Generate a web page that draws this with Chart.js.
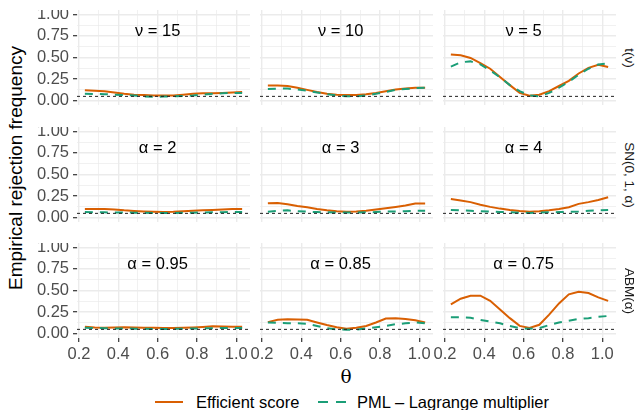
<!DOCTYPE html>
<html>
<head>
<meta charset="utf-8">
<script src="https://cdn.jsdelivr.net/npm/chart.js@4.4.1/dist/chart.umd.min.js"></script>
<style>
  body { margin: 0; background: #fff; }
  #wrap { position: relative; width: 642px; height: 410px; overflow: hidden;
          font-family: "Liberation Sans", Arial, sans-serif; }
  canvas { position: absolute; }
  .anchor { position: absolute; width: 0; height: 0; }
  .anchor span { position: absolute; left: 0; top: 0; white-space: nowrap; line-height: 1; }
  .ytitle span { font-size: 19px; color: #000; transform: translate(-50%, -50%) rotate(-90deg); }
  .xtitle span { font-size: 18.5px; color: #000; font-family: "DejaVu Serif", "Liberation Serif", serif;
                 transform: translate(-50%, -50%); }
  .strip span { font-size: 13.5px; color: #1a1a1a; transform: translate(-50%, -50%) rotate(90deg); }
  .legend { position: absolute; top: 392px; left: 0; width: 642px; height: 20px;
            font-size: 16.5px; color: #000; }
  .legend span { position: absolute; top: 0; line-height: 20px; }
  .legend svg { position: absolute; top: 9px; }
</style>
</head>
<body>
<div id="wrap">
  <div class="anchor ytitle" style="left:15px; top:168px;"><span>Empirical rejection frequency</span></div>
  <div class="anchor xtitle" style="left:346px; top:377px;"><span>θ</span></div>
  <div class="legend">
    <svg style="left:155px;" width="28" height="2"><line x1="0" y1="1" x2="28" y2="1" stroke="#D95F02" stroke-width="2"/></svg>
    <span style="left:196px;">Efficient score</span>
    <svg style="left:318px;" width="28" height="2"><line x1="0" y1="1" x2="28" y2="1" stroke="#1B9E77" stroke-width="2" stroke-dasharray="10,8"/></svg>
    <span style="left:357px;">PML – Lagrange multiplier</span>
  </div>
</div>
<script>
// theta grid shared by all panels
const theta = [0.23, 0.28, 0.33, 0.38, 0.43, 0.48, 0.53, 0.58, 0.63, 0.68, 0.73, 0.78, 0.83, 0.88, 0.93, 0.98, 1.03];
const xBreaks = [0.2, 0.3, 0.4, 0.5, 0.6, 0.7, 0.8, 0.9, 1.0];
const yBreaks = [0, 0.125, 0.25, 0.375, 0.5, 0.625, 0.75, 0.875, 1];
const nominalLevel = 0.05;

// t(nu) row
const effNu15 = [0.12, 0.115, 0.11, 0.095, 0.08, 0.07, 0.065, 0.06, 0.06, 0.06, 0.07, 0.08, 0.085, 0.085, 0.09, 0.095, 0.10];
const pmlNu15 = [0.08, 0.078, 0.075, 0.07, 0.065, 0.06, 0.05, 0.045, 0.048, 0.05, 0.055, 0.06, 0.07, 0.08, 0.085, 0.09, 0.09];
const effNu10 = [0.175, 0.175, 0.17, 0.15, 0.125, 0.10, 0.08, 0.068, 0.065, 0.065, 0.075, 0.09, 0.11, 0.13, 0.14, 0.15, 0.15];
const pmlNu10 = [0.135, 0.14, 0.14, 0.13, 0.115, 0.095, 0.075, 0.06, 0.05, 0.05, 0.06, 0.08, 0.10, 0.125, 0.135, 0.145, 0.15];
const effNu5 = [0.535, 0.525, 0.495, 0.435, 0.37, 0.275, 0.18, 0.09, 0.058, 0.068, 0.11, 0.17, 0.23, 0.315, 0.38, 0.415, 0.39];
const pmlNu5 = [0.395, 0.445, 0.455, 0.42, 0.35, 0.27, 0.18, 0.11, 0.06, 0.05, 0.09, 0.15, 0.22, 0.30, 0.37, 0.42, 0.43];

// SN(0, 1, alpha) row
const effSn2 = [0.10, 0.10, 0.10, 0.095, 0.085, 0.078, 0.072, 0.068, 0.066, 0.068, 0.075, 0.08, 0.085, 0.09, 0.095, 0.10, 0.10];
const pmlSn2 = [0.065, 0.063, 0.062, 0.06, 0.06, 0.058, 0.056, 0.055, 0.055, 0.055, 0.056, 0.058, 0.06, 0.062, 0.064, 0.066, 0.066];
const effSn3 = [0.167, 0.17, 0.155, 0.135, 0.12, 0.10, 0.085, 0.075, 0.07, 0.072, 0.08, 0.095, 0.11, 0.125, 0.14, 0.165, 0.165];
const pmlSn3 = [0.07, 0.08, 0.085, 0.075, 0.07, 0.065, 0.062, 0.06, 0.06, 0.06, 0.062, 0.065, 0.07, 0.072, 0.075, 0.08, 0.08];
const effSn4 = [0.216, 0.20, 0.18, 0.15, 0.125, 0.105, 0.09, 0.078, 0.07, 0.075, 0.085, 0.10, 0.12, 0.16, 0.18, 0.205, 0.236];
const pmlSn4 = [0.089, 0.085, 0.08, 0.075, 0.07, 0.067, 0.064, 0.058, 0.055, 0.058, 0.062, 0.065, 0.068, 0.072, 0.08, 0.086, 0.089];

// ABM(alpha) row
const effAbm95 = [0.08, 0.072, 0.07, 0.072, 0.075, 0.073, 0.07, 0.068, 0.065, 0.065, 0.068, 0.072, 0.078, 0.085, 0.082, 0.08, 0.08];
const pmlAbm95 = [0.07, 0.066, 0.063, 0.06, 0.06, 0.058, 0.056, 0.055, 0.055, 0.056, 0.058, 0.06, 0.062, 0.064, 0.065, 0.066, 0.066];
const effAbm85 = [0.134, 0.16, 0.168, 0.165, 0.16, 0.13, 0.10, 0.075, 0.058, 0.07, 0.09, 0.13, 0.175, 0.18, 0.17, 0.155, 0.13];
const pmlAbm85 = [0.13, 0.125, 0.12, 0.12, 0.115, 0.09, 0.065, 0.05, 0.046, 0.048, 0.06, 0.075, 0.09, 0.11, 0.12, 0.13, 0.12];
const effAbm75 = [0.34, 0.405, 0.44, 0.44, 0.38, 0.28, 0.18, 0.09, 0.066, 0.103, 0.22, 0.35, 0.455, 0.485, 0.47, 0.42, 0.38];
const pmlAbm75 = [0.19, 0.19, 0.185, 0.16, 0.14, 0.12, 0.09, 0.065, 0.057, 0.065, 0.10, 0.13, 0.15, 0.17, 0.18, 0.195, 0.205];

const effScore = [[effNu15, effNu10, effNu5], [effSn2, effSn3, effSn4], [effAbm95, effAbm85, effAbm75]];
const pmlLm = [[pmlNu15, pmlNu10, pmlNu5], [pmlSn2, pmlSn3, pmlSn4], [pmlAbm95, pmlAbm85, pmlAbm75]];
const panelLabels = [['ν = 15', 'ν = 10', 'ν = 5'], ['α = 2', 'α = 3', 'α = 4'], ['α = 0.95', 'α = 0.85', 'α = 0.75']];
const rowStrips = ['t(ν)', 'SN(0, 1, α)', 'ABM(α)'];

// panel geometry
const colLeft = [77, 260, 443];
const rowTop = [10, 127, 243];
const panelW = 173, panelH = 95;
const yAxisW = 77, xAxisH = 28, labelRoom = 14;
const xMin = 0.19, xMax = 1.07, yMin = -0.05, yMax = 1.05;

const GRID = '#EBEBEB', TICK = '#333333', FONT = '"Liberation Sans", Arial, sans-serif';
const near = (v, step) => Math.abs(v / step - Math.round(v / step)) < 1e-6;

// keep every chart area at the exact panel box: no extra room for overhanging labels
function fixBox(s, size) {
  if (s.isHorizontal()) s.height = size; else s.width = size;
  s.paddingTop = s.paddingBottom = s.paddingLeft = s.paddingRight = 0;
}

// text placed inside each panel
const panelText = {
  id: 'panelText',
  afterDatasetsDraw(chart, args, opts) {
    const { ctx, scales: { x, y } } = chart;
    ctx.save();
    ctx.font = '16.5px ' + FONT;
    ctx.fillStyle = '#000';
    ctx.textAlign = 'center';
    ctx.textBaseline = 'middle';
    ctx.fillText(opts.text, x.getPixelForValue(0.6), y.getPixelForValue(0.8));
    ctx.restore();
  }
};

const wrap = document.getElementById('wrap');

function drawPanel(r, c) {
  const showY = c === 0, showX = r === 2;
  // bottom panels without a y axis still need room on the left for the "0.2" label
  const leftW = showY ? yAxisW : (showX ? labelRoom : 0);
  const canvas = document.createElement('canvas');
  canvas.width = panelW + leftW;
  canvas.height = panelH + (showX ? xAxisH : 0);
  canvas.style.left = (colLeft[c] - leftW) + 'px';
  canvas.style.top = rowTop[r] + 'px';
  wrap.appendChild(canvas);

  const pts = vals => theta.map((t, i) => ({ x: t, y: vals[i] }));

  new Chart(canvas.getContext('2d'), {
    type: 'line',
    data: {
      datasets: [
        {
          data: [{ x: xMin, y: nominalLevel }, { x: xMax, y: nominalLevel }],
          borderColor: '#222', borderWidth: 1, borderDash: [3, 3]
        },
        {
          label: 'PML – Lagrange multiplier',
          data: pts(pmlLm[r][c]),
          borderColor: '#1B9E77', borderWidth: 2, borderDash: [8, 7]
        },
        {
          label: 'Efficient score',
          data: pts(effScore[r][c]),
          borderColor: '#D95F02', borderWidth: 2
        }
      ]
    },
    options: {
      responsive: false,
      animation: false,
      events: [],
      layout: { padding: 0 },
      elements: { point: { radius: 0 }, line: { tension: 0, borderCapStyle: 'butt' } },
      plugins: { legend: { display: false }, tooltip: { enabled: false }, panelText: { text: panelLabels[r][c] } },
      scales: {
        x: {
          type: 'linear', min: xMin, max: xMax,
          afterBuildTicks: s => { s.ticks = xBreaks.map(v => ({ value: v })); },
          afterFit: s => fixBox(s, showX ? xAxisH : 0),
          border: { display: false },
          grid: {
            color: GRID,
            lineWidth: ctx => near(ctx.tick.value, 0.2) ? 1.4 : 0.7,
            drawTicks: showX, tickLength: 4, tickWidth: 1.2,
            tickColor: ctx => near(ctx.tick.value, 0.2) ? TICK : 'rgba(0,0,0,0)'
          },
          ticks: {
            display: showX, autoSkip: false, maxRotation: 0, padding: 3,
            color: '#4D4D4D', font: { family: FONT, size: 16.5 },
            callback: v => near(v, 0.2) ? v.toFixed(1) : ''
          }
        },
        y: {
          type: 'linear', min: yMin, max: yMax,
          afterBuildTicks: s => { s.ticks = yBreaks.map(v => ({ value: v })); },
          afterFit: s => fixBox(s, leftW),
          border: { display: false },
          grid: {
            color: GRID,
            lineWidth: ctx => near(ctx.tick.value, 0.25) ? 1.4 : 0.7,
            drawTicks: showY, tickLength: 4, tickWidth: 1.2,
            tickColor: ctx => near(ctx.tick.value, 0.25) ? TICK : 'rgba(0,0,0,0)'
          },
          ticks: {
            display: showY, autoSkip: false, padding: 4,
            color: '#4D4D4D', font: { family: FONT, size: 16.5 },
            callback: v => near(v, 0.25) ? v.toFixed(2) : ''
          }
        }
      }
    },
    plugins: [panelText]
  });
}

for (let r = 0; r < 3; r++) {
  for (let c = 0; c < 3; c++) drawPanel(r, c);
  const strip = document.createElement('div');
  strip.className = 'anchor strip';
  strip.style.left = '629px';
  strip.style.top = (rowTop[r] + panelH / 2) + 'px';
  strip.innerHTML = '<span></span>';
  strip.firstChild.textContent = rowStrips[r];
  wrap.appendChild(strip);
}
</script>
</body>
</html>
